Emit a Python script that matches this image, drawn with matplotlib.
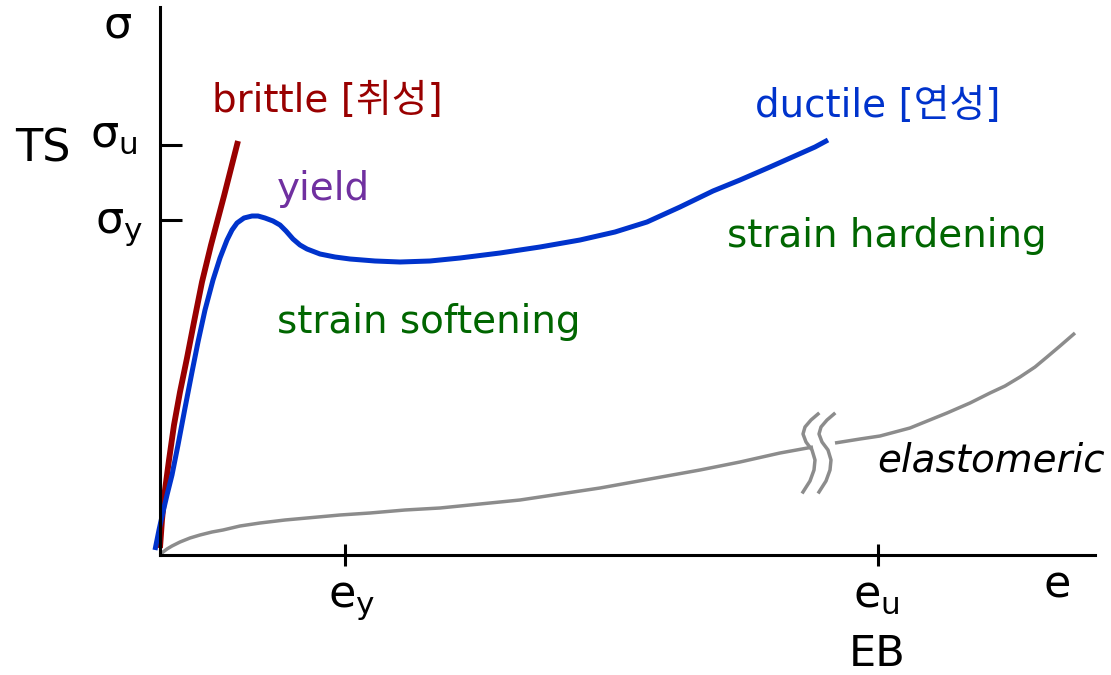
import matplotlib
matplotlib.use('Agg')
import matplotlib.pyplot as plt

# curve points (strain, stress) in chart units
brittle_x = [0, 2, 5, 9, 14, 20, 27, 34, 42, 51, 64, 78]
brittle_y = [7, 35, 65, 95, 130, 163, 197, 233, 273, 310, 359, 414]

ductile_x = [-5, -1, 3, 7, 12, 18, 25, 32, 38, 45, 53, 60, 67, 72, 77, 84, 92, 98, 105, 113,
             120, 126, 133, 140, 147, 160, 175, 190, 215, 240, 270, 300, 340, 380, 420, 455,
             487, 520, 553, 580, 610, 637, 655, 668]
ductile_y = [5, 25, 43, 60, 80, 110, 147, 183, 213, 245, 275, 297, 315, 325, 332, 337, 339, 339,
             337, 334, 330, 324, 316, 310, 306, 301, 298, 296, 294, 293, 294, 297, 302, 308, 315,
             323, 333, 348, 364, 375, 388, 400, 408, 415]

elast_x1 = [0, 3, 7, 12, 20, 30, 40, 52, 63, 80, 100, 125, 147, 180, 210, 245, 280, 320, 360,
            400, 440, 490, 540, 580, 620, 653]
elast_y1 = [0, 3, 6, 9, 13, 17, 20, 23, 25, 29, 32, 35, 37, 40, 42, 45, 47, 51, 55,
            61, 67, 76, 85, 93, 102, 108]
elast_x2 = [675, 700, 720, 750, 787, 810, 830, 845, 860, 875, 887, 900, 915]
elast_y2 = [112, 116, 119, 127, 142, 152, 162, 169, 178, 188, 198, 209, 222]

break_x = [658, 651, 645, 643, 646, 652, 655, 654, 650, 643]
break_y = [141, 135, 128, 121, 113, 105, 95, 85, 74, 63]
break_gap = 16

sigma_ticks = [335, 410]   # sigma_y, sigma_u
strain_ticks = [185, 718]  # e_y, e_u

BRITTLE = '#990000'
DUCTILE = '#0033CC'
YIELD = '#7030A0'
GREEN = '#006600'
GRAY = '#8C8C8C'

fig = plt.figure(figsize=(11.11, 6.75), dpi=100)
ax = fig.add_axes([0, 0, 1, 1])
ax.set_xlim(-160, 951)
ax.set_ylim(-120, 555)

for s in ['top', 'right']:
    ax.spines[s].set_visible(False)
ax.spines['left'].set_position(('data', 0))
ax.spines['bottom'].set_position(('data', 0))
ax.spines['left'].set_bounds(0, 548)
ax.spines['bottom'].set_bounds(0, 935)
for s in ['left', 'bottom']:
    ax.spines[s].set_linewidth(2.2)
    ax.spines[s].set_color('black')

ax.set_yticks(sigma_ticks)
ax.set_xticks(strain_ticks)
ax.tick_params(axis='y', direction='in', length=16, width=2.2, labelleft=False)
ax.tick_params(axis='x', direction='inout', length=16, width=2.2, labelbottom=False)

ax.plot(elast_x1, elast_y1, color=GRAY, lw=2.5, solid_capstyle='butt', solid_joinstyle='round')
ax.plot(elast_x2, elast_y2, color=GRAY, lw=2.5, solid_capstyle='butt', solid_joinstyle='round')
ax.plot(break_x, break_y, color=GRAY, lw=2.5, solid_joinstyle='round')
ax.plot([v + break_gap for v in break_x], break_y, color=GRAY, lw=2.5, solid_joinstyle='round')
ax.plot(brittle_x, brittle_y, color=BRITTLE, lw=4.2, solid_capstyle='butt', solid_joinstyle='round')
ax.plot(ductile_x, ductile_y, color=DUCTILE, lw=3.6, solid_capstyle='butt', solid_joinstyle='round')

kr = ['DejaVu Sans', 'Noto Sans CJK KR']
ax.text(52, 443, 'brittle [취성]', color=BRITTLE, fontsize=28, family=kr, va='baseline')
ax.text(595, 438, 'ductile [연성]', color=DUCTILE, fontsize=28, family=kr, va='baseline')
ax.text(117, 355, 'yield', color=YIELD, fontsize=28, va='baseline')
ax.text(117, 222, 'strain softening', color=GREEN, fontsize=28, va='baseline')
ax.text(567, 308, 'strain hardening', color=GREEN, fontsize=28, va='baseline')
ax.text(717, 84, 'elastomeric', color='black', fontsize=28, style='italic', va='baseline')

ax.text(-42, 518, 'σ', fontsize=32, ha='center', va='baseline')
ax.text(-117, 393, 'TS', fontsize=32, ha='center', va='baseline')
ax.text(-70, 408, r'$\mathregular{\sigma_u}$', fontsize=32, ha='left', va='baseline')
ax.text(-65, 322, r'$\mathregular{\sigma_y}$', fontsize=32, ha='left', va='baseline')
ax.text(168, -52, r'$\mathregular{e_y}$', fontsize=32, ha='left', va='baseline')
ax.text(693, -52, r'$\mathregular{e_u}$', fontsize=32, ha='left', va='baseline')
ax.text(717, -111, 'EB', fontsize=31, ha='center', va='baseline')
ax.text(897, -43, 'e', fontsize=32, ha='center', va='baseline')

fig.savefig('out.png', dpi=100)
